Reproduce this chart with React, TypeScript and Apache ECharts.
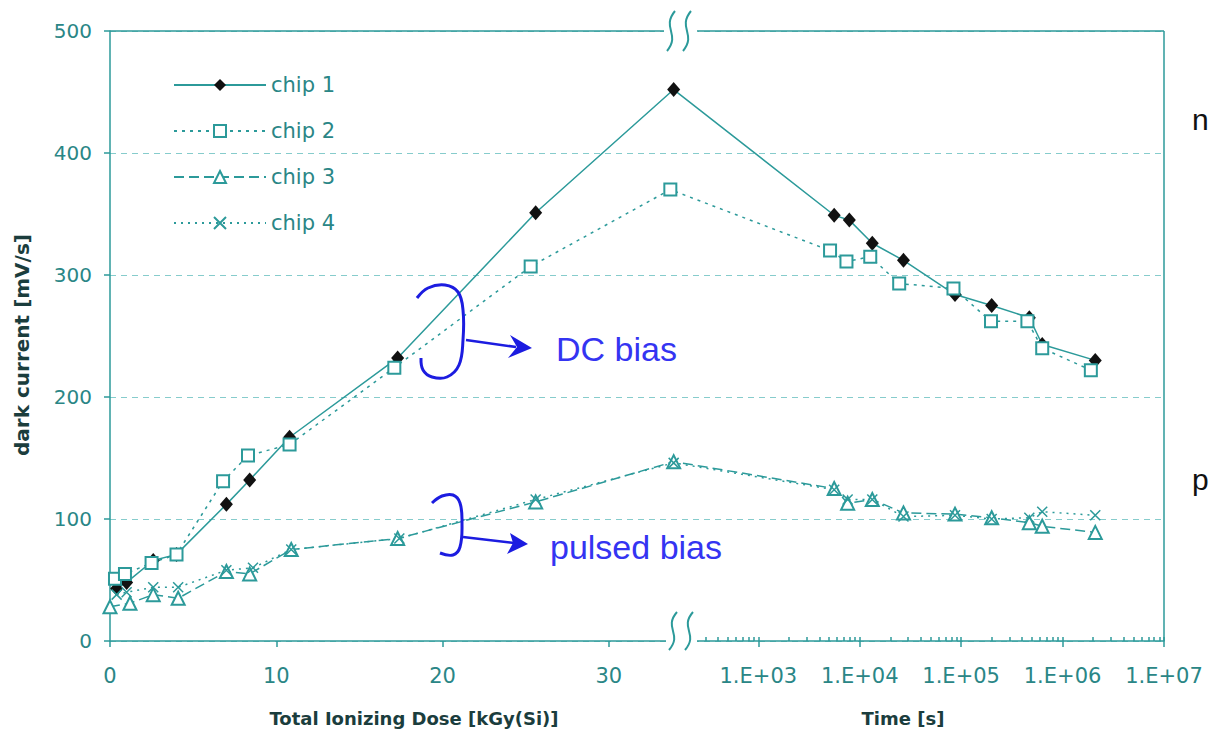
import React, { useEffect, useRef } from 'react';
import * as echarts from 'echarts';

// ---------- data ----------
const seriesNames = ['chip 1', 'chip 2', 'chip 3', 'chip 4'];

// irradiation phase: total ionizing dose [kGy(Si)] vs dark current [mV/s]
const doseChip1 = [0.4, 1.0, 2.6, 4.0, 7.0, 8.4, 10.8, 17.3, 25.6, 33.9];
const doseCurrentChip1 = [43, 48, 66, 71, 112, 132, 167, 232, 351, 452];
const doseChip2 = [0.3, 0.9, 2.5, 4.0, 6.8, 8.3, 10.8, 17.1, 25.3, 33.7];
const doseCurrentChip2 = [51, 55, 64, 71, 131, 152, 161, 224, 307, 370];
const doseChip3 = [0.0, 1.2, 2.6, 4.1, 7.0, 8.4, 10.9, 17.3, 25.6, 33.9];
const doseCurrentChip3 = [28, 31, 38, 35, 57, 55, 75, 84, 114, 147];
const doseChip4 = [0.4, 1.0, 2.6, 4.1, 7.0, 8.6, 10.9, 17.4, 25.6, 33.9];
const doseCurrentChip4 = [38, 40, 44, 44, 58, 60, 75, 84, 116, 146];

// annealing phase: time [s] vs dark current [mV/s]
const timeChip1 = [5.6e3, 7.9e3, 1.33e4, 2.7e4, 8.7e4, 2.0e5, 4.7e5, 6.3e5, 2.1e6];
const timeCurrentChip1 = [349, 345, 326, 312, 284, 275, 265, 243, 230];
const timeChip2 = [5.1e3, 7.4e3, 1.27e4, 2.45e4, 8.4e4, 1.97e5, 4.5e5, 6.3e5, 1.9e6];
const timeCurrentChip2 = [320, 311, 315, 293, 289, 262, 262, 240, 222];
const timeChip3 = [5.6e3, 7.6e3, 1.33e4, 2.7e4, 8.7e4, 2.0e5, 4.7e5, 6.3e5, 2.1e6];
const timeCurrentChip3 = [125, 113, 116, 105, 104, 101, 97, 94, 89];
const timeChip4 = [5.6e3, 7.6e3, 1.33e4, 2.7e4, 8.7e4, 2.0e5, 4.7e5, 6.3e5, 2.1e6];
const timeCurrentChip4 = [124, 116, 116, 102, 103, 100, 101, 106, 103];

const doseTicks = [0, 10, 20, 30];
const timeTickExponents = [3, 4, 5, 6, 7];
const yTicks = [0, 100, 200, 300, 400, 500];

// ---------- broken axis: linear dose part + log time part ----------
const BREAK_DOSE = 34.6;
const LOG_START = 2.4;
const RIGHT_START = 35.33;
const UNITS_PER_DECADE = 6.1;
const timeToAxis = (t: number) => RIGHT_START + (Math.log10(t) - LOG_START) * UNITS_PER_DECADE;
const X_MAX = timeToAxis(1e7);

const majorTimeTicks = timeTickExponents.map((e) => timeToAxis(Math.pow(10, e)));
const minorTimeTicks: number[] = [];
for (let k = 2; k <= 6; k++) {
  for (let m = 2; m <= 9; m++) {
    const t = m * Math.pow(10, k);
    if (Math.log10(t) > LOG_START + 0.02) minorTimeTicks.push(timeToAxis(t));
  }
}

const build = (d: number[], dv: number[], t: number[], tv: number[]) => [
  ...d.map((x, i) => [x, dv[i]]),
  ...t.map((x, i) => [timeToAxis(x), tv[i]]),
];

// ---------- styling ----------
const TEAL = '#2c9a9a';
const LABEL = '#2a8686';
const TITLE = '#1b3d3d';
const BLUE = '#1c1ce0';
const FONT = 'DejaVu Sans';

const sCurve = (cx: number, cy: number, h: number) => ({
  type: 'bezierCurve',
  z: 110,
  shape: {
    x1: cx + 4, y1: cy - h,
    cpx1: cx - 10, cpy1: cy - h * 0.15,
    cpx2: cx + 10, cpy2: cy + h * 0.15,
    x2: cx - 4, y2: cy + h,
  },
  style: { stroke: TEAL, lineWidth: 2, fill: null },
});

export default function App() {
  const ref = useRef<HTMLDivElement>(null);
  useEffect(() => {
    const chart = echarts.init(ref.current!, null, { renderer: 'svg' });
    const lineBase = { width: 1.5, color: TEAL };
    const option: any = {
      animation: false,
      backgroundColor: '#fff',
      grid: { left: 110, right: 47, top: 31, bottom: 98 },
      legend: {
        orient: 'vertical',
        left: 168,
        top: 69,
        itemWidth: 92,
        itemHeight: 15,
        itemGap: 24,
        data: seriesNames,
        textStyle: { color: LABEL, fontSize: 21, fontFamily: FONT, lineHeight: 22 },
      },
      xAxis: [
        {
          type: 'value',
          min: 0,
          max: X_MAX,
          position: 'bottom',
          axisLine: { show: true, lineStyle: { color: TEAL, width: 1.5 } },
          axisTick: {
            show: true,
            length: 6,
            customValues: [...doseTicks, ...majorTimeTicks],
            lineStyle: { color: TEAL, width: 1.5 },
          },
          axisLabel: {
            customValues: [...doseTicks, ...majorTimeTicks],
            margin: 24,
            color: LABEL,
            fontSize: 21,
            fontFamily: FONT,
            formatter: (v: number) => {
              if (v < BREAK_DOSE) return String(Math.round(v));
              const e = Math.round((v - RIGHT_START) / UNITS_PER_DECADE + LOG_START);
              return '1.E+0' + e;
            },
          },
          splitLine: { show: false },
        },
        {
          type: 'value',
          min: 0,
          max: X_MAX,
          position: 'bottom',
          axisLine: { show: false },
          axisLabel: { show: false },
          axisTick: {
            show: true,
            inside: true,
            length: 4,
            customValues: [...minorTimeTicks, ...majorTimeTicks],
            lineStyle: { color: TEAL, width: 1.5 },
          },
          splitLine: { show: false },
        },
      ],
      yAxis: {
        type: 'value',
        min: 0,
        max: 500,
        interval: 100,
        axisLine: { show: true, lineStyle: { color: TEAL, width: 1.5 } },
        axisTick: { show: true, length: 6, lineStyle: { color: TEAL, width: 1.5 } },
        axisLabel: {
          margin: 18,
          color: LABEL,
          fontSize: 20,
          fontFamily: FONT,
          formatter: (v: number) => (yTicks.includes(v) ? String(v) : ''),
        },
        splitLine: { show: true, lineStyle: { color: '#86cccc', type: [6, 5], width: 1 } },
      },
      series: [
        {
          name: seriesNames[0],
          type: 'line',
          data: build(doseChip1, doseCurrentChip1, timeChip1, timeCurrentChip1),
          symbol: 'diamond',
          symbolSize: [13, 15],
          itemStyle: { color: '#111' },
          lineStyle: { ...lineBase, type: 'solid' },
        },
        {
          name: seriesNames[1],
          type: 'line',
          data: build(doseChip2, doseCurrentChip2, timeChip2, timeCurrentChip2),
          symbol: 'emptyRect',
          symbolSize: 12,
          itemStyle: { color: TEAL, borderWidth: 1.5 },
          lineStyle: { ...lineBase, type: [3, 5] },
        },
        {
          name: seriesNames[2],
          type: 'line',
          data: build(doseChip3, doseCurrentChip3, timeChip3, timeCurrentChip3),
          symbol: 'emptyTriangle',
          symbolSize: 13,
          itemStyle: { color: TEAL, borderWidth: 1.5 },
          lineStyle: { ...lineBase, type: [10, 5] },
        },
        {
          name: seriesNames[3],
          type: 'line',
          data: build(doseChip4, doseCurrentChip4, timeChip4, timeCurrentChip4),
          symbol: 'path://M0,0L10,10M10,0L0,10',
          symbolSize: 10,
          symbolKeepAspect: true,
          itemStyle: { color: TEAL, borderColor: TEAL, borderWidth: 1.5 },
          lineStyle: { ...lineBase, type: [2, 5] },
        },
      ],
      graphic: [
        // frame
        { type: 'line', z: 100, shape: { x1: 110, y1: 31, x2: 664, y2: 31 }, style: { stroke: TEAL, lineWidth: 1.5 } },
        { type: 'rect', z: 99, shape: { x: 664, y: 25, width: 34, height: 12 }, style: { fill: '#fff' } },
        { type: 'line', z: 100, shape: { x1: 697, y1: 31, x2: 1164, y2: 31 }, style: { stroke: TEAL, lineWidth: 1.5 } },
        { type: 'line', z: 100, shape: { x1: 1164, y1: 31, x2: 1164, y2: 641 }, style: { stroke: TEAL, lineWidth: 1.5 } },
        // axis break
        { type: 'rect', z: 99, shape: { x: 666, y: 635, width: 31, height: 12 }, style: { fill: '#fff' } },
        sCurve(671, 31, 20),
        sCurve(687, 31, 20),
        sCurve(673, 631, 19),
        sCurve(689, 631, 19),
        // axis titles
        {
          type: 'text', z: 100, x: 414, y: 718,
          style: { text: 'Total Ionizing Dose [kGy(Si)]', fill: TITLE, font: `bold 18px "${FONT}"`, textAlign: 'center', textVerticalAlign: 'middle' },
        },
        {
          type: 'text', z: 100, x: 903, y: 718,
          style: { text: 'Time [s]', fill: TITLE, font: `bold 18px "${FONT}"`, textAlign: 'center', textVerticalAlign: 'middle' },
        },
        {
          type: 'text', z: 100, x: 22, y: 345, rotation: Math.PI / 2,
          style: { text: 'dark current [mV/s]', fill: TITLE, font: `bold 20px "${FONT}"`, textAlign: 'center', textVerticalAlign: 'middle' },
        },
        // annotations
        {
          type: 'polyline', z: 105,
          shape: { points: [[417, 298], [428, 288], [445, 285], [458, 292], [463, 310], [463, 340], [459, 365], [447, 377], [432, 377], [423, 370], [421, 358]], smooth: 0.4 },
          style: { stroke: BLUE, lineWidth: 3, fill: null },
        },
        { type: 'line', z: 105, shape: { x1: 466, y1: 340, x2: 516, y2: 347 }, style: { stroke: BLUE, lineWidth: 2.5 } },
        { type: 'polygon', z: 105, shape: { points: [[532, 348], [510, 335], [517, 347], [508, 358]] }, style: { fill: BLUE } },
        {
          type: 'polyline', z: 105,
          shape: { points: [[432, 503], [442, 496], [453, 495], [460, 503], [462, 523], [460, 547], [453, 555], [440, 553]], smooth: 0.4 },
          style: { stroke: BLUE, lineWidth: 3, fill: null },
        },
        { type: 'line', z: 105, shape: { x1: 463, y1: 537, x2: 514, y2: 543 }, style: { stroke: BLUE, lineWidth: 2.5 } },
        { type: 'polygon', z: 105, shape: { points: [[528, 544], [510, 533], [513, 543], [507, 554]] }, style: { fill: BLUE } },
        {
          type: 'text', z: 105, x: 556, y: 349,
          style: { text: 'DC bias', fill: '#3434f2', font: '34px "Liberation Sans"', textAlign: 'left', textVerticalAlign: 'middle' },
        },
        {
          type: 'text', z: 105, x: 550, y: 547,
          style: { text: 'pulsed bias', fill: '#3434f2', font: '34px "Liberation Sans"', textAlign: 'left', textVerticalAlign: 'middle' },
        },
        // slide text at right edge
        {
          type: 'text', z: 105, x: 1192, y: 119,
          style: { text: 'n', fill: '#111', font: '30px "Liberation Sans"', textAlign: 'left', textVerticalAlign: 'middle' },
        },
        {
          type: 'text', z: 105, x: 1192, y: 479,
          style: { text: 'p', fill: '#111', font: '30px "Liberation Sans"', textAlign: 'left', textVerticalAlign: 'middle' },
        },
      ],
    };
    chart.setOption(option);
    return () => chart.dispose();
  }, []);
  return (
    <div
      ref={ref}
      style={{ position: 'absolute', left: 0, top: 0, width: 1211, height: 739, background: '#fff' }}
    />
  );
}
